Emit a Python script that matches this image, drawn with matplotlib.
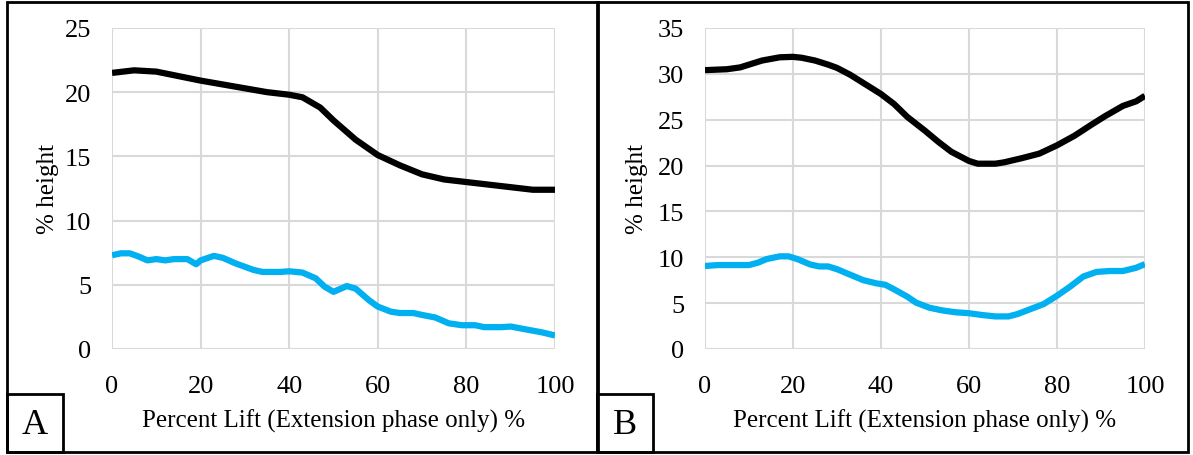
import numpy as np
import matplotlib.pyplot as plt
from matplotlib.patches import Rectangle

plt.rcParams['font.family'] = ['Liberation Serif', 'DejaVu Serif']

# panel A
a_x_black = [0, 5, 10, 15, 20, 25, 30, 35, 40, 43, 47, 50, 55, 60, 65, 70, 75, 80, 85, 90, 95, 100]
a_black = [21.5, 21.7, 21.6, 21.25, 20.9, 20.6, 20.3, 20.0, 19.8, 19.6, 18.8, 17.8, 16.3, 15.1,
           14.3, 13.6, 13.2, 13.0, 12.8, 12.6, 12.4, 12.4]
a_x_blue = [0, 2, 4, 6, 8, 10, 12, 14, 17, 19, 20, 23, 25, 28, 30, 32, 34, 38, 40, 43, 46, 48, 50,
            53, 55, 58, 60, 63, 65, 68, 70, 73, 76, 79, 82, 84, 88, 90, 93, 97, 100]
a_blue = [7.3, 7.45, 7.45, 7.2, 6.9, 7.0, 6.9, 7.0, 7.0, 6.6, 6.9, 7.25, 7.1, 6.65, 6.4, 6.15, 6.0,
          6.0, 6.05, 5.95, 5.5, 4.85, 4.45, 4.9, 4.7, 3.8, 3.3, 2.9, 2.8, 2.8, 2.65, 2.45, 2.0, 1.85,
          1.85, 1.7, 1.7, 1.75, 1.55, 1.3, 1.05]

# panel B
b_x_black = [0, 5, 8, 10, 13, 17, 20, 22, 25, 28, 30, 33, 36, 40, 43, 46, 50, 53, 56, 60, 62, 66,
             68, 72, 76, 80, 84, 88, 91, 95, 98, 100]
b_black = [30.4, 30.5, 30.7, 31.0, 31.45, 31.8, 31.85, 31.75, 31.45, 31.0, 30.65, 29.9, 29.0, 27.8,
           26.7, 25.3, 23.8, 22.6, 21.5, 20.5, 20.2, 20.2, 20.35, 20.8, 21.3, 22.2, 23.25, 24.5,
           25.4, 26.5, 27.0, 27.6]
b_x_blue = [0, 3, 10, 12, 14, 17, 19, 21, 24, 26, 28, 30, 33, 36, 39, 41, 43, 46, 48, 51, 54, 57,
            60, 63, 66, 69, 71, 74, 77, 80, 83, 86, 89, 92, 95, 98, 100]
b_blue = [9.05, 9.15, 9.15, 9.4, 9.8, 10.1, 10.1, 9.8, 9.2, 9.0, 9.0, 8.7, 8.1, 7.5, 7.15, 7.0, 6.5,
          5.7, 5.05, 4.5, 4.2, 4.0, 3.9, 3.7, 3.55, 3.55, 3.8, 4.35, 4.9, 5.8, 6.8, 7.9, 8.4, 8.5,
          8.5, 8.85, 9.25]

x_label = 'Percent Lift (Extension phase only) %'
y_label = '% height'
panels = [
    ('A', a_x_black, a_black, a_x_blue, a_blue, 25, 0.0939, 0.3713, 0.0059, -0.145),
    ('B', b_x_black, b_black, b_x_blue, b_blue, 35, 0.5909, 0.3688, 0.5004, -0.155),
]

fig = plt.figure(figsize=(11.93, 4.56), dpi=100)

for name, xk, yk, xb, yb, ymax, left, width, box_left, ylab_x in panels:
    ax = fig.add_axes([left, 0.2325, width, 0.704])
    ax.plot(xk, yk, color='black', lw=4.5, solid_capstyle='butt')
    ax.plot(xb, yb, color='#00b0f0', lw=4.5, solid_capstyle='butt')
    ax.set_xlim(0, 100)
    ax.set_ylim(0, ymax)
    ax.set_xticks(np.arange(0, 101, 20))
    ax.set_yticks(np.arange(0, ymax + 1, 5))
    ax.grid(True, color='#d9d9d9', lw=1.5)
    ax.set_axisbelow(True)
    for s in ax.spines.values():
        s.set_visible(False)
    ax.tick_params(length=0, labelsize=19)
    ax.tick_params(axis='x', pad=19)
    ax.tick_params(axis='y', pad=15)
    ax.set_xlabel(x_label, fontsize=18, labelpad=8)
    ax.set_ylabel(y_label, fontsize=18, va='center')
    ax.yaxis.set_label_coords(ylab_x, 0.5)

    # panel frame and letter box
    fig.patches.append(Rectangle((box_left, 0.0066), 0.4953, 0.9868, transform=fig.transFigure,
                                 fill=False, edgecolor='black', lw=2))
    fig.patches.append(Rectangle((box_left, 0.0066), 0.047, 0.127, transform=fig.transFigure,
                                 fill=False, edgecolor='black', lw=2))
    fig.text(box_left + 0.0235, 0.066, name, fontsize=26, ha='center', va='center')

fig.savefig('out.png', dpi=100)
